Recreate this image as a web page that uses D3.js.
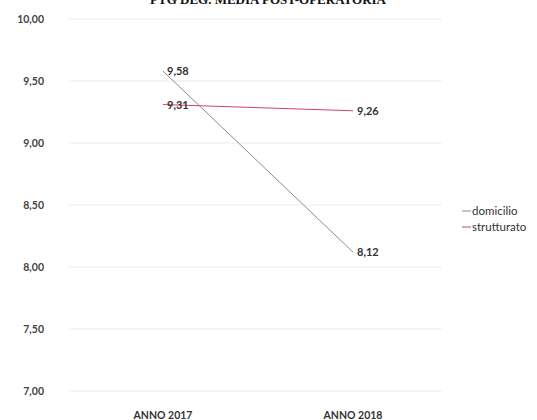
<html>
<head>
<script src="https://cdn.jsdelivr.net/npm/d3@7"></script>
<style>
	body { margin: 0; background: #fff; }
	text { font-family: Lato, 'Open Sans', sans-serif; }
</style>
</head>
<body>
<svg id="chart" width="537" height="420"></svg>
<script>
	var categories = ['ANNO 2017', 'ANNO 2018'];
	var seriesNames = ['domicilio', 'strutturato'];
	var domicilio = [9.58, 8.12];
	var strutturato = [9.31, 9.26];
	var yTicks = [7, 7.5, 8, 8.5, 9, 9.5, 10];
	var colors = ['#8c8c8c', '#d0435e'];

	var series = [domicilio, strutturato];

	var svg = d3.select('#chart');
	var plotLeft = 68, plotRight = 448, plotTop = 19, plotBottom = 391;

	var x = d3.scaleBand().domain(categories).range([plotLeft, plotRight]);
	var y = d3.scaleLinear().domain([7, 10]).range([plotBottom, plotTop]);

	// titolo tagliato in alto
	svg.append('text')
		.attr('x', 268).attr('y', 4)
		.attr('text-anchor', 'middle')
		.style('font-family', "'Liberation Serif', serif")
		.style('font-weight', 'bold')
		.style('font-size', '13px')
		.attr('fill', '#111')
		.text('PTG DEG. MEDIA POST-OPERATORIA');

	// griglia
	svg.append('g').selectAll('line')
		.data(yTicks)
		.enter().append('line')
		.attr('x1', plotLeft).attr('x2', 442)
		.attr('y1', function(d){ return y(d); })
		.attr('y2', function(d){ return y(d); })
		.attr('stroke', '#f3f3f3')
		.attr('stroke-width', 1.5);

	var yAxis = svg.append('g')
		.attr('transform', 'translate(' + (plotLeft - 21) + ',0)')
		.call(d3.axisLeft(y).tickValues(yTicks).tickSize(0).tickFormat(function(d){
			return d3.format('.2f')(d).replace('.', ',');
		}));
	yAxis.select('.domain').remove();
	yAxis.selectAll('text')
		.style('font-size', '10.5px')
		.style('font-weight', 'bold')
		.attr('fill', '#444');

	var xAxis = svg.append('g')
		.attr('transform', 'translate(0,' + (plotBottom + 18) + ')')
		.call(d3.axisBottom(x).tickSize(0));
	xAxis.select('.domain').remove();
	xAxis.selectAll('text')
		.style('font-size', '10.5px')
		.style('font-weight', 'bold')
		.attr('fill', '#333');

	var cx = function(d, i){ return x(categories[i]) + x.bandwidth() / 2; };

	var line = d3.line()
		.x(cx)
		.y(function(d){ return y(d); });

	series.forEach(function(values, s){
		svg.append('path')
			.datum(values)
			.attr('d', line)
			.attr('fill', 'none')
			.attr('stroke', colors[s])
			.attr('stroke-width', 1);

		svg.append('g').selectAll('text')
			.data(values)
			.enter().append('text')
			.attr('x', function(d, i){ return cx(d, i) + 4; })
			.attr('y', function(d){ return y(d) + 4; })
			.style('font-size', '11px')
			.style('font-weight', 'bold')
			.attr('fill', '#333')
			.text(function(d){ return d3.format('.2f')(d).replace('.', ','); });
	});

	// legenda
	var legend = svg.append('g').attr('transform', 'translate(462,211)');
	seriesNames.forEach(function(name, i){
		var g = legend.append('g').attr('transform', 'translate(0,' + (i * 16) + ')');
		g.append('line')
			.attr('x1', 0).attr('x2', 9)
			.attr('y1', 0).attr('y2', 0)
			.attr('stroke', colors[i]);
		g.append('text')
			.attr('x', 10).attr('y', 4)
			.style('font-size', '11.5px')
			.attr('fill', '#333')
			.text(name);
	});
</script>
</body>
</html>
